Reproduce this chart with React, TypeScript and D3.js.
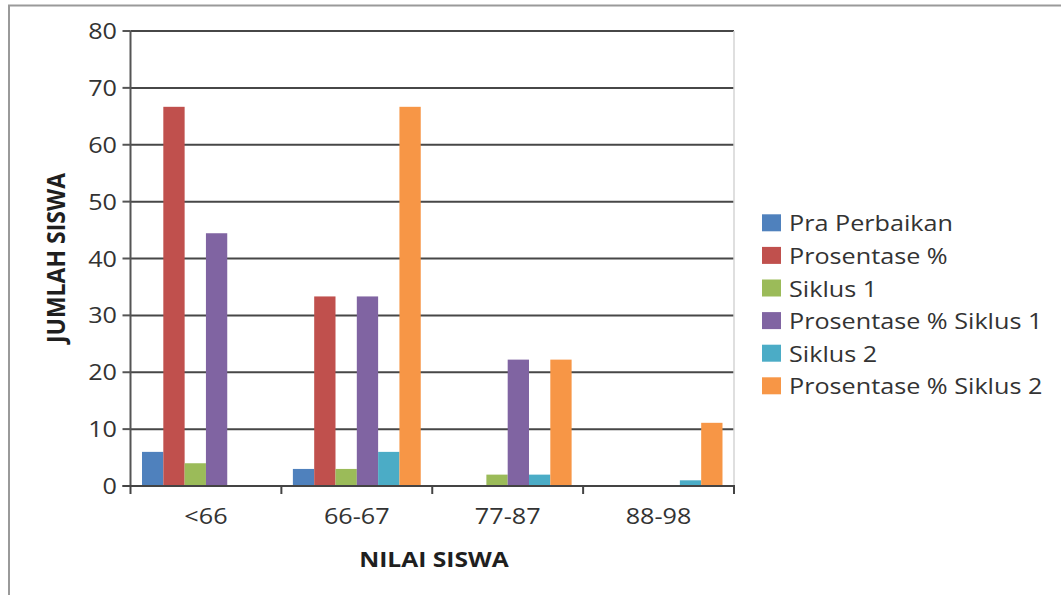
import React from "react";
import * as d3 from "d3";

const categories = ["<66", "66-67", "77-87", "88-98"];
const seriesNames = [
  "Pra Perbaikan",
  "Prosentase %",
  "Siklus 1",
  "Prosentase % Siklus 1",
  "Siklus 2",
  "Prosentase % Siklus 2",
];
const praPerbaikan = [6, 3, 0, 0];
const prosentase = [66.67, 33.33, 0, 0];
const siklus1 = [4, 3, 2, 0];
const prosentaseSiklus1 = [44.44, 33.33, 22.22, 0];
const siklus2 = [0, 6, 2, 1];
const prosentaseSiklus2 = [0, 66.67, 22.22, 11.11];
const seriesValues = [praPerbaikan, prosentase, siklus1, prosentaseSiklus1, siklus2, prosentaseSiklus2];
const colors = ["#4F81BD", "#C0504D", "#9BBB59", "#8064A2", "#4BACC6", "#F79646"];
const yTicks = [0, 10, 20, 30, 40, 50, 60, 70, 80];

const W = 1061;
const H = 595;
const SX = 1.12;
const FONT = "'Open Sans', 'DejaVu Sans', sans-serif";

function SText(props: { x: number; y: number; anchor?: string; size: number; weight?: string | number; fill: string; children: React.ReactNode; rotate?: boolean }) {
  const { x, y, anchor = "start", size, weight = 400, fill, children, rotate } = props;
  const tf = rotate
    ? `translate(${x},${y}) scale(${SX},1) rotate(-90)`
    : `translate(${x},${y}) scale(${SX},1)`;
  return (
    <g transform={tf}>
      <text x={0} y={0} textAnchor={anchor} fontFamily={FONT} fontSize={size} fontWeight={weight} fill={fill}>
        {children}
      </text>
    </g>
  );
}

export default function App() {
  const left = 130.5;
  const right = 734;
  const top = 31;
  const bottom = 486;

  const x0 = d3.scaleBand<string>().domain(categories).range([left, right]).paddingInner(0).paddingOuter(0);
  const x1 = d3.scaleBand<string>().domain(seriesNames).range([0, x0.bandwidth()]).paddingInner(0).paddingOuter(0.54);
  const y = d3.scaleLinear().domain([0, 80]).range([bottom, top]);

  const boundaries = [left, ...categories.map((c) => (x0(c) as number) + x0.bandwidth())];

  return (
    <svg width={W} height={H} style={{ position: "absolute", left: 0, top: 0, background: "#fff" }}>
      <rect x={0} y={0} width={W} height={H} fill="#fff" />
      {/* outer frame */}
      <path d={`M9,${H + 5} V5.5 H${W + 5}`} fill="none" stroke="#9a9a9a" strokeWidth={2} />

      {/* gridlines */}
      {yTicks.filter((t) => t > 0).map((t) => (
        <line key={t} x1={left} x2={right} y1={y(t)} y2={y(t)} stroke="#474747" strokeWidth={2} />
      ))}
      {/* right border of plot area */}
      <line x1={right} x2={right} y1={top} y2={bottom} stroke="#d4d4d4" strokeWidth={1.5} />

      {/* bars */}
      {seriesNames.map((s, si) => (
        <g key={s}>
          {categories.map((c, ci) => {
            const v = seriesValues[si][ci];
            if (v <= 0) return null;
            return (
              <rect
                key={c}
                x={(x0(c) as number) + (x1(s) as number)}
                y={y(v)}
                width={x1.bandwidth()}
                height={bottom - y(v)}
                fill={colors[si]}
              />
            );
          })}
        </g>
      ))}

      {/* y axis */}
      <line x1={left} x2={left} y1={top} y2={bottom + 1} stroke="#555" strokeWidth={2} />
      {yTicks.map((t) => (
        <g key={t}>
          <line x1={left - 8} x2={left} y1={y(t)} y2={y(t)} stroke="#555" strokeWidth={2} />
          <SText x={117} y={y(t) + 8} anchor="end" size={22.5} fill="#333">
            {t}
          </SText>
        </g>
      ))}

      {/* x axis */}
      <line x1={left - 8} x2={right + 1} y1={bottom} y2={bottom} stroke="#444" strokeWidth={2} />
      {boundaries.map((b, i) => (
        <line key={i} x1={b} x2={b} y1={bottom} y2={bottom + 8} stroke="#444" strokeWidth={2} />
      ))}
      {categories.map((c) => (
        <SText key={c} x={(x0(c) as number) + x0.bandwidth() / 2} y={524} anchor="middle" size={22.5} fill="#333">
          {c}
        </SText>
      ))}

      {/* axis titles */}
      <SText x={434} y={567} anchor="middle" size={22} weight={700} fill="#1f1f1f">
        NILAI SISWA
      </SText>
      <SText x={65} y={258} anchor="middle" size={23} weight={700} fill="#1f1f1f" rotate>
        JUMLAH SISWA
      </SText>

      {/* legend */}
      {seriesNames.map((s, i) => {
        const cy = 222.8 + i * 32.6;
        return (
          <g key={s}>
            <rect x={762} y={cy - 8.5} width={19} height={17} fill={colors[i]} />
            <SText x={789} y={cy + 8.5} size={22.5} fill="#333">
              {s}
            </SText>
          </g>
        );
      })}
    </svg>
  );
}
